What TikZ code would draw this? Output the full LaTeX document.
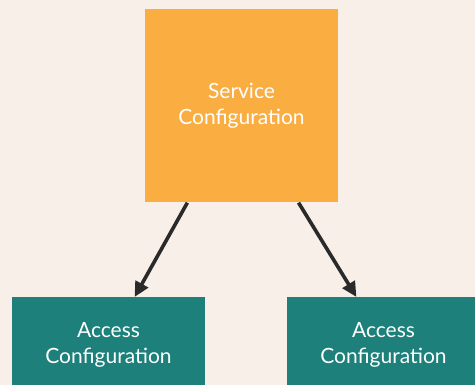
\documentclass[tikz,border=0pt]{standalone}
\usepackage{fontspec}
\setmainfont{Lato}
\usepackage{xcolor}
\usetikzlibrary{arrows.meta,calc}

\definecolor{bgcream}{HTML}{F8EFE8}
\definecolor{svcorange}{HTML}{FAAD41}
\definecolor{accteal}{HTML}{1D807A}
\definecolor{arrowgray}{HTML}{2A2A2A}

\begin{document}
\begin{tikzpicture}[
  x=1pt, y=-1pt,
  every node/.style={minimum width=193pt, minimum height=193pt, inner sep=0pt,
    text=white, align=center, font=\fontsize{21}{26}\selectfont},
  service/.style={fill=svcorange},
  access/.style={fill=accteal},
  link/.style={draw=arrowgray, line width=3.6pt, -{Triangle[length=15pt,width=14pt]}}
]
\fill[bgcream] (0,0) rectangle (475,385);
\useasboundingbox (0,0) rectangle (475,385);

\node[service] (svc) at (241.5,106) {Service\\Configuration};
\node[access, anchor=north] (accL) at (108.5,297) {};
\node[access, anchor=north] (accR) at (383.5,297) {};
\node[minimum size=0pt] (txtL) at (108.5,345) {Access\\Configuration};
\node[minimum size=0pt] (txtR) at (383.5,345) {Access\\Configuration};

\draw[link] ($(svc.south west)!0.22!(svc.south east)$) -- ($(accL.north west)!0.635!(accL.north east)$);
\draw[link] ($(svc.south west)!0.795!(svc.south east)$) -- ($(accR.north west)!0.36!(accR.north east)$);
\end{tikzpicture}
\end{document}
